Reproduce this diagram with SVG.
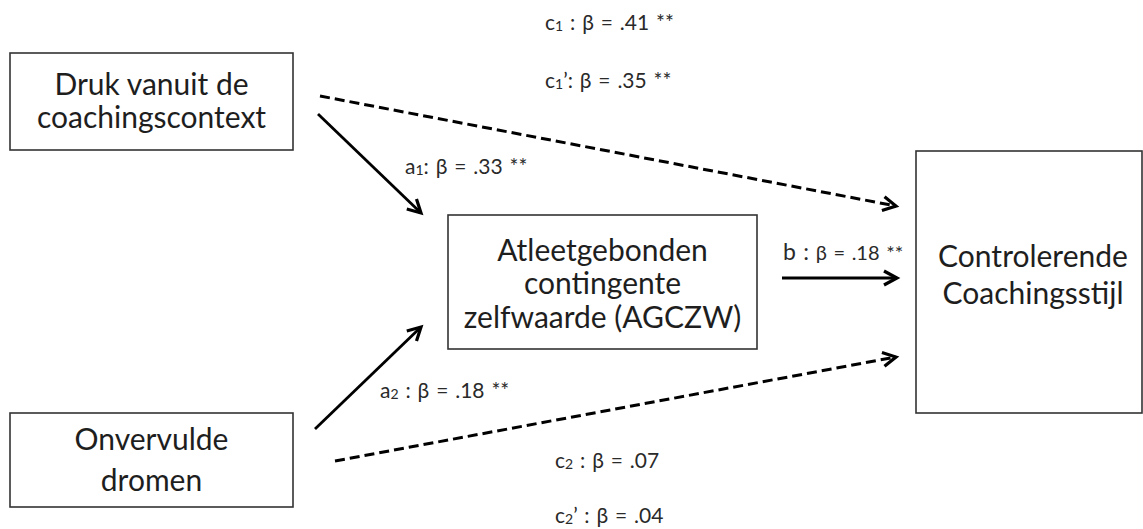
<svg xmlns="http://www.w3.org/2000/svg" width="1143" height="529" viewBox="0 0 1143 529">
  <style>
    .box { fill: #fff; stroke: #333; stroke-width: 1.6; }
    .nt { font-family: Lato, "Open Sans", sans-serif; font-size: 30px; fill: #1e1e1e; text-anchor: middle; }
    .lb { font-family: Lato, "Open Sans", sans-serif; font-size: 21px; fill: #2a2a2a; word-spacing: 1.5px; }
    .lb.big { font-size: 23px; }
    .sub { font-size: 14px; }
    .solid { stroke: #000; stroke-width: 2.8; fill: none; marker-end: url(#arr); }
    .dash { stroke: #000; stroke-width: 3; fill: none; stroke-dasharray: 10 5; marker-end: url(#arr); }
  </style>
  <defs>
    <!-- open chevron arrowhead -->
    <marker id="arr" markerUnits="userSpaceOnUse" markerWidth="20" markerHeight="20" viewBox="0 0 20 20" refX="16" refY="10" orient="auto">
      <path d="M3,3 L16,10 L3,17" fill="none" stroke="#000" stroke-width="3.2" stroke-linejoin="miter"/>
    </marker>
  </defs>

  <rect x="0" y="0" width="1143" height="529" fill="#fff"/>

  <g id="node-druk">
    <rect class="box" x="10" y="53" width="283" height="97"/>
    <text class="nt" x="151.5" y="95">Druk vanuit de</text>
    <text class="nt" x="151.5" y="128">coachingscontext</text>
  </g>

  <g id="node-agczw">
    <rect class="box" x="448" y="215" width="309" height="134"/>
    <text class="nt" x="602.5" y="261">Atleetgebonden</text>
    <text class="nt" x="602.5" y="294">contingente</text>
    <text class="nt" x="602.5" y="328">zelfwaarde (AGCZW)</text>
  </g>

  <g id="node-controlerend">
    <rect class="box" x="916" y="151" width="226" height="262"/>
    <text class="nt" x="1033" y="267">Controlerende</text>
    <text class="nt" x="1033" y="304">Coachingsstijl</text>
  </g>

  <g id="node-dromen">
    <rect class="box" x="10" y="413" width="283" height="94"/>
    <text class="nt" x="151.5" y="450">Onvervulde</text>
    <text class="nt" x="151.5" y="491">dromen</text>
  </g>

  <g id="connectors">
    <path class="solid" d="M318,114 L421,213"/>
    <path class="solid" d="M315,429 L421,327"/>
    <path class="solid" d="M782,278 L897,278"/>
    <path class="dash" d="M320,96 L896,206"/>
    <path class="dash" d="M335,461 L896,357"/>
  </g>

  <g id="labels">
    <text class="lb" x="545" y="30">c<tspan class="sub" dy="1">1</tspan><tspan dy="-1"> : β = .41 **</tspan></text>
    <text class="lb" x="545" y="88">c<tspan class="sub" dy="1">1</tspan><tspan dy="-1">’: β = .35 **</tspan></text>
    <text class="lb" x="405" y="174">a<tspan class="sub" dy="1">1</tspan><tspan dy="-1">: β = .33 **</tspan></text>
    <text class="lb big" x="783" y="260">b :<tspan style="font-size:20px"> β = .18 **</tspan></text>
    <text class="lb" x="380" y="398">a<tspan class="sub" dy="1">2</tspan><tspan dy="-1"> : β = .18 **</tspan></text>
    <text class="lb" x="555" y="468">c<tspan class="sub" dy="1">2</tspan><tspan dy="-1"> : β = .07</tspan></text>
    <text class="lb" x="555" y="523">c<tspan class="sub" dy="1">2</tspan><tspan dy="-1">’ : β = .04</tspan></text>
  </g>
</svg>
